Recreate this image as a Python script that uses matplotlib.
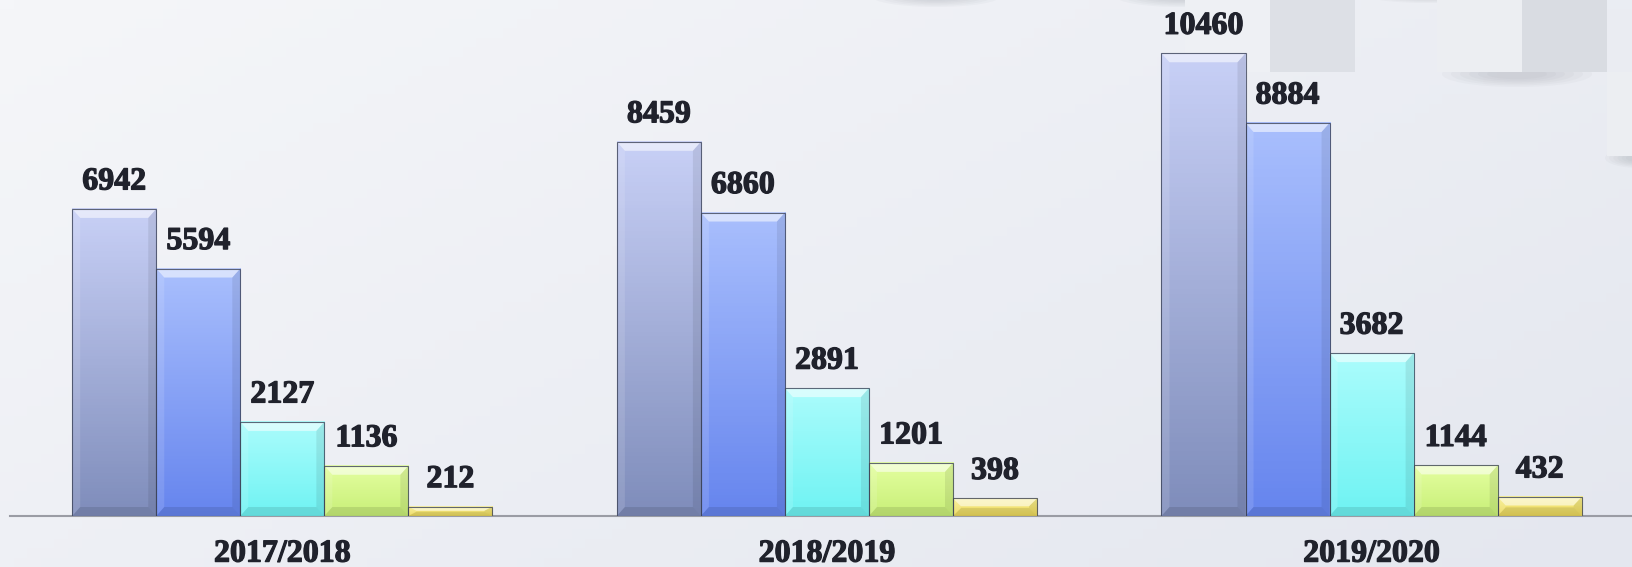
import numpy as np
import matplotlib.pyplot as plt
import matplotlib.patheffects as pe
from matplotlib.colors import LinearSegmentedColormap
from matplotlib.patches import Polygon, Rectangle, Ellipse

plt.rcParams['font.family'] = 'Liberation Serif'
plt.rcParams['font.weight'] = 'bold'

# data
years = ['2017/2018', '2018/2019', '2019/2020']
s1 = [6942, 8459, 10460]
s2 = [5594, 6860, 8884]
s3 = [2127, 2891, 3682]
s4 = [1136, 1201, 1144]
s5 = [212, 398, 432]
series = [s1, s2, s3, s4, s5]

# top colour / bottom colour of each series
grads = [('#c8d0f6', '#7f8dbb'),
         ('#a9bffd', '#6685ee'),
         ('#abfcfc', '#6ff3f3'),
         ('#e4ffa0', '#c8ef78'),
         ('#f8ef90', '#ecd85a')]

txtcol = '#20222c'
thick = [pe.withStroke(linewidth=0.9, foreground=txtcol)]

W, H = 1633, 567
fig = plt.figure(figsize=(W / 100, H / 100), dpi=100)

# slide background with light squares top right
bg = fig.add_axes([0, 0, 1, 1])
bg.set_xlim(0, W)
bg.set_ylim(H, 0)
bg.axis('off')
yy, xx = np.mgrid[0:1:60j, 0:1:120j]
shade = 0.6 * xx + 0.4 * yy
bgcmap = LinearSegmentedColormap.from_list('bg', ['#f5f6f9', '#e4e7ef'])
bg.imshow(shade, cmap=bgcmap, extent=[0, W, H, 0], aspect='auto', zorder=0)
for (cx, cy, w, h) in [(936, -4, 130, 22), (1180, -4, 130, 22), (1428, -6, 130, 18),
                       (1517, 74, 150, 26), (1640, 158, 70, 20)]:
    for k in range(6):
        bg.add_patch(Ellipse((cx, cy), w * (1 - k * 0.12), h * (1 - k * 0.12),
                             color='#8a8e98', alpha=0.05, lw=0, zorder=0.5))
for (x0, y0, w, h, c) in [(1185, 0, 85, 72, '#eef0f4'), (1270, 0, 85, 72, '#dde0e6'),
                          (1437, 0, 85, 72, '#eceef2'), (1522, 0, 85, 72, '#d9dce2'),
                          (1607, 72, 30, 84, '#eceef2')]:
    bg.add_patch(Rectangle((x0, y0), w, h, color=c, lw=0, zorder=1))

ax = fig.add_axes([10 / W, 51 / H, 1 - 10 / W, 516 / H])
ax.patch.set_alpha(0)

x = np.arange(len(years))
bw = 0.1543
# bevel sizes in data units (~8 px)
bx = 8 / 544.5
by = 9 * 11664 / 516

grad = np.linspace(0, 1, 100).reshape(-1, 1)
for i, vals in enumerate(series):
    cmap = LinearSegmentedColormap.from_list('g%d' % i, [grads[i][0], grads[i][1]])
    bars = ax.bar(x + (i - 2) * bw, vals, bw, facecolor='none',
                  edgecolor='#3c4358', linewidth=0.8, alpha=0.8, zorder=4)
    for b, v in zip(bars, vals):
        x0, x1 = b.get_x(), b.get_x() + b.get_width()
        h = b.get_height()
        ax.imshow(grad, cmap=cmap, extent=[x0, x1, 0, h], aspect='auto', zorder=2)
        ey = min(by, h * 0.45)
        ex = bx
        # top bevel (light), sides, bottom (darker)
        ax.add_patch(Polygon([(x0, h), (x1, h), (x1 - ex, h - ey), (x0 + ex, h - ey)],
                             closed=True, color='white', alpha=0.55, lw=0, zorder=3))
        ax.add_patch(Polygon([(x0, 0), (x0, h), (x0 + ex, h - ey), (x0 + ex, ey)],
                             closed=True, color='white', alpha=0.12, lw=0, zorder=3))
        ax.add_patch(Polygon([(x1, 0), (x1, h), (x1 - ex, h - ey), (x1 - ex, ey)],
                             closed=True, color='black', alpha=0.08, lw=0, zorder=3))
        ax.add_patch(Polygon([(x0, 0), (x1, 0), (x1 - ex, ey), (x0 + ex, ey)],
                             closed=True, color='black', alpha=0.10, lw=0, zorder=3))
        ax.annotate(str(v), (b.get_x() + b.get_width() / 2, h), xytext=(0, 14),
                    textcoords='offset points', ha='center', va='baseline',
                    fontsize=23, fontweight='bold', color=txtcol, zorder=5,
                    path_effects=thick)

ax.set_xlim(-0.5, 2.48)
ax.set_ylim(0, 11664)
for s in ['top', 'right', 'left']:
    ax.spines[s].set_visible(False)
ax.spines['bottom'].set_color('#9a9ca4')
ax.spines['bottom'].set_linewidth(1.5)
ax.spines['bottom'].set_zorder(1)
ax.set_yticks([])
ax.set_xticks(x)
ax.set_xticklabels(years, fontsize=23, fontweight='bold', color=txtcol)
for t in ax.get_xticklabels():
    t.set_path_effects(thick)
ax.tick_params(axis='x', length=0, pad=17)

fig.savefig('out.png', dpi=100)
